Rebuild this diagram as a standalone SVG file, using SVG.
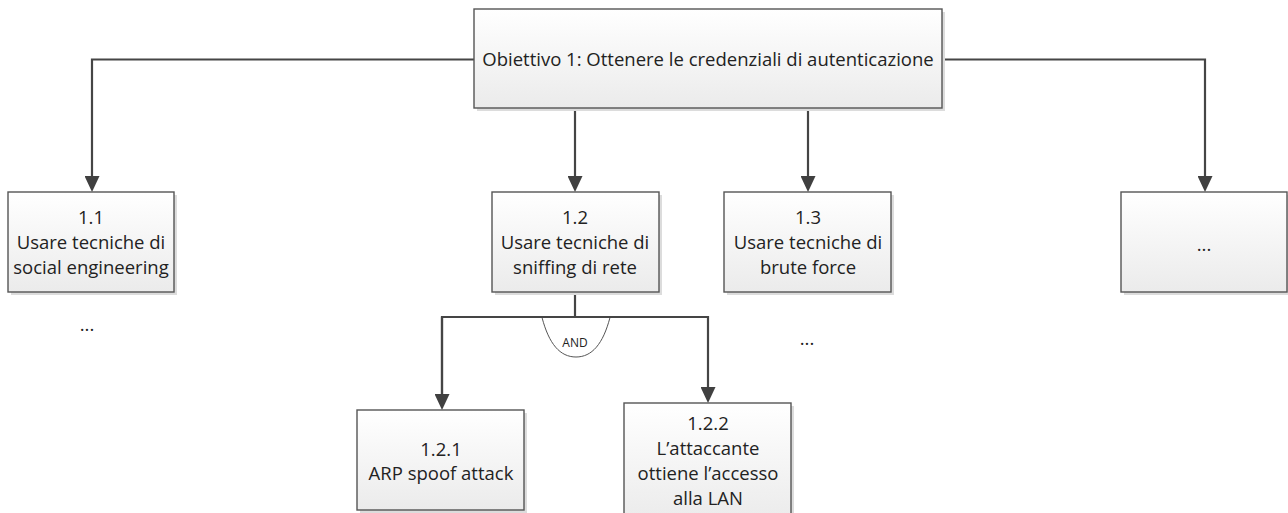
<svg xmlns="http://www.w3.org/2000/svg" width="1288" height="513" viewBox="0 0 1288 513">
<style>
.box{fill:url(#g);stroke:#555555;stroke-width:1.4}
.sh{fill:#dcdcdc}
.t{font-family:"Open Sans","Liberation Sans",sans-serif;font-size:18.5px;fill:#222222;text-anchor:middle}
.c{fill:none;stroke:#454545;stroke-width:2.2}
.and{fill:#ffffff;stroke:#555555;stroke-width:1}
.at{font-family:"Open Sans","Liberation Sans",sans-serif;font-size:12px;fill:#222222;text-anchor:middle}
</style>
<defs>
<linearGradient id="g" x1="0" y1="0" x2="0" y2="1">
<stop offset="0" stop-color="#ffffff"/>
<stop offset="1" stop-color="#ebebeb"/>
</linearGradient>
<marker id="ah" markerUnits="userSpaceOnUse" markerWidth="16" markerHeight="15" viewBox="0 0 16 15" refX="0" refY="7.5" orient="auto">
<path d="M0,0 L16,7.5 L0,15 z" fill="#404040"/>
</marker>
</defs>
<rect width="1288" height="513" fill="#ffffff"/>

<g id="connectors">
<path class="c" d="M474,59.5 H92 V176" marker-end="url(#ah)"/>
<path class="c" d="M575,108 V176" marker-end="url(#ah)"/>
<path class="c" d="M808,108 V176" marker-end="url(#ah)"/>
<path class="c" d="M942,59.5 H1205 V176" marker-end="url(#ah)"/>
<path class="c" d="M575,292.5 V317"/>
<path class="c" d="M442,394 V317 H708 V387" marker-end="url(#ah)"/>
<path class="c" d="M442,317 V394" marker-end="url(#ah)"/>
</g>

<g id="and-gate">
<path class="and" d="M542,317.5 C549,344 560,357 576,357 C592,357 603,344 610,317.5"/>
<path class="c" d="M540,317 H612"/>
<text class="at" x="575" y="347">AND</text>
</g>

<g id="node-root">
<rect class="sh" x="477" y="12" width="468" height="99"/>
<rect class="box" x="474" y="9" width="468" height="99"/>
<text class="t" x="708" y="65.5">Obiettivo 1: Ottenere le credenziali di autenticazione</text>
</g>

<g id="node-1-1">
<rect class="sh" x="11" y="195" width="166" height="100"/>
<rect class="box" x="8" y="192" width="166" height="100"/>
<text class="t" x="91" y="224">1.1</text>
<text class="t" x="91" y="249">Usare tecniche di</text>
<text class="t" x="91" y="274">social engineering</text>
</g>
<text id="dots-1-1" class="t" x="87" y="331">...</text>

<g id="node-1-2">
<rect class="sh" x="495" y="195" width="167" height="100"/>
<rect class="box" x="492" y="192" width="167" height="100"/>
<text class="t" x="575" y="224">1.2</text>
<text class="t" x="575" y="249">Usare tecniche di</text>
<text class="t" x="575" y="274">sniffing di rete</text>
</g>

<g id="node-1-3">
<rect class="sh" x="727" y="195" width="167" height="100"/>
<rect class="box" x="724" y="192" width="167" height="100"/>
<text class="t" x="808" y="224">1.3</text>
<text class="t" x="808" y="249">Usare tecniche di</text>
<text class="t" x="808" y="274">brute force</text>
</g>
<text id="dots-1-3" class="t" x="807" y="345">...</text>

<g id="node-more">
<rect class="sh" x="1124" y="195" width="167" height="100"/>
<rect class="box" x="1121" y="192" width="166" height="100"/>
<text class="t" x="1204" y="251">...</text>
</g>

<g id="node-1-2-1">
<rect class="sh" x="360" y="413" width="167" height="100"/>
<rect class="box" x="357" y="410" width="167" height="100"/>
<text class="t" x="441" y="455.5">1.2.1</text>
<text class="t" x="441" y="480">ARP spoof attack</text>
</g>

<g id="node-1-2-2">
<rect class="sh" x="627" y="406" width="167" height="118"/>
<rect class="box" x="624" y="403" width="167" height="118"/>
<text class="t" x="708" y="429.5">1.2.2</text>
<text class="t" x="708" y="454.5">L’attaccante</text>
<text class="t" x="708" y="479.5">ottiene l’accesso</text>
<text class="t" x="708" y="504.5">alla LAN</text>
</g>
</svg>
